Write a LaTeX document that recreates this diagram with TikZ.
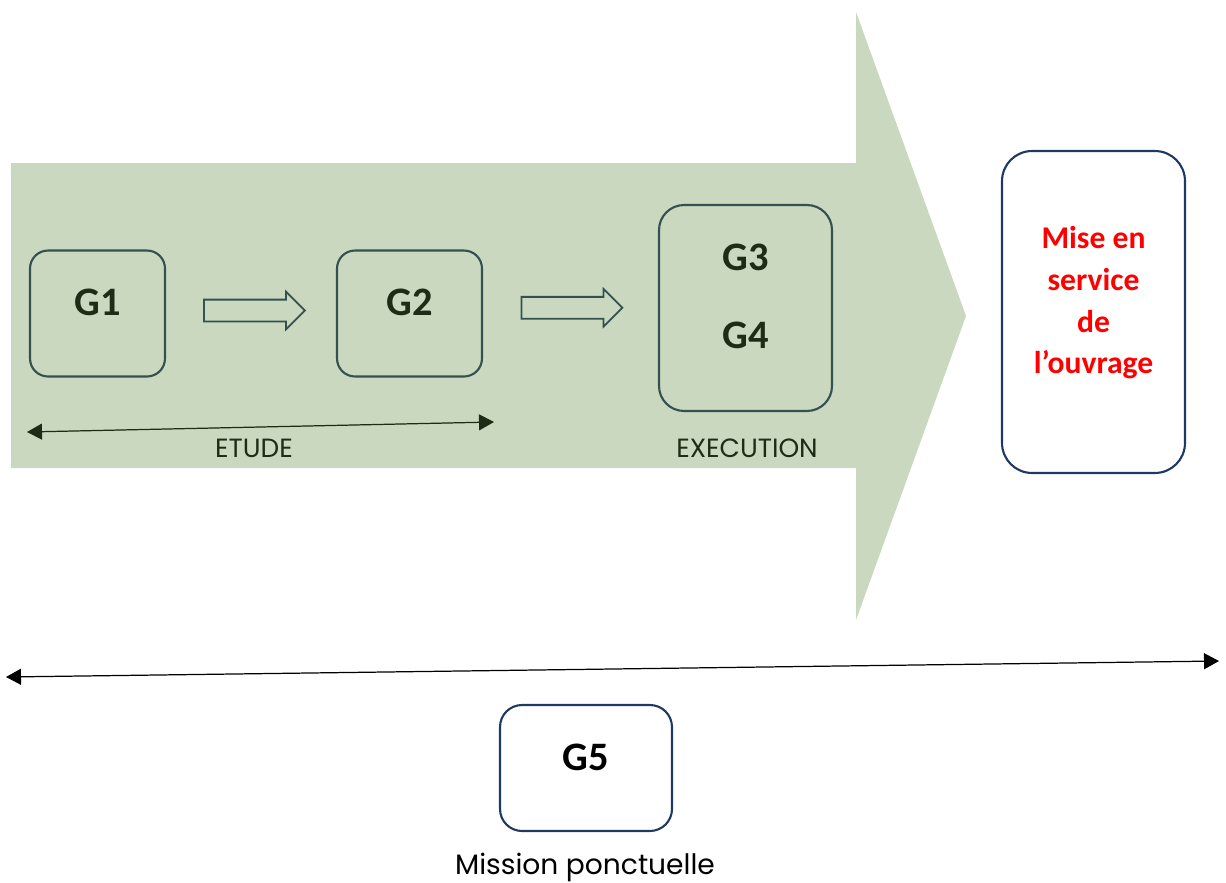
\documentclass[tikz,border=0pt]{standalone}
\usepackage{fontspec}
\setmainfont{Carlito}
\newfontfamily\gothic{Poppins}
\usetikzlibrary{arrows.meta,positioning,calc,shapes.arrows}
\definecolor{sage}{HTML}{C9D8BF}
\definecolor{tealline}{HTML}{35504F}
\definecolor{navyline}{HTML}{1F3864}
\definecolor{gtext}{HTML}{1E2B16}
\begin{document}
\begin{tikzpicture}[x=0.02cm,y=-0.02cm,
  gbox/.style={draw=tealline,line width=1.2pt,rounded corners=0.36cm,inner sep=0pt,
    font=\fontsize{23}{27}\selectfont\bfseries,text=gtext,
    minimum height=2.5cm,text height=1.3cm,text depth=1.22cm},
  bluebox/.style={gbox,draw=navyline,fill=white,text=black},
  hollow/.style={single arrow,draw=tealline,line width=1pt,minimum height=2.02cm,
    inner sep=0.2cm,single arrow head extend=0.16cm,single arrow head indent=0pt},
  lbl/.style={font=\gothic\fontsize{15}{18}\selectfont,text=gtext,inner sep=0pt},
  span/.style={{Triangle[length=0.3cm,width=0.32cm]}-{Triangle[length=0.3cm,width=0.32cm]},line width=0.7pt}]
\useasboundingbox (0,0) rectangle (1226,882);
\fill[sage] (11,163) -- (856,163) -- (856,12) -- (966,316) -- (856,620) -- (856,468) -- (11,468) -- cycle;
\node[gbox,minimum width=2.7cm] (g1) at (97.5,313.5) {G1};
\node[gbox,minimum width=2.9cm] (g2) at (409.5,313.5) {G2};
\node[gbox,minimum width=3.46cm,minimum height=4.12cm,rounded corners=0.5cm,align=center,
  font=\fontsize{23}{44.4}\selectfont\bfseries,text height=2.88cm,text depth=1.24cm] (g34) at (745.5,308) {G3\\G4};
\node[bluebox,minimum width=3.66cm,minimum height=6.44cm,rounded corners=0.6cm,align=center,
  text=red,text height=4.46cm,text depth=1.98cm,font=\fontsize{18}{23.9}\selectfont\bfseries] (mes) at (1093.5,312) {Mise en\\service\\de\\l’ouvrage};
\node[bluebox,minimum width=3.44cm,rounded corners=0.44cm] (g5) at (586,768) {G5};
\node[hollow] (a12) at ($(g1.east)!0.5!(g2.west)+(-2,-3)$) {};
\node[hollow] (a23) at ($(g2.east)!0.5!(g34.west)+(-4,-3)$) {};
\coordinate (etudeL) at (27,432);
\coordinate (etudeR) at (494,422);
\draw[span,draw=gtext,fill=gtext] (etudeL) -- (etudeR);
\node[lbl] (etude) at (254,448) {ETUDE};
\node[lbl] (exec) at (747,448) {EXECUTION};
\coordinate (allL) at (6,677);
\coordinate (allR) at (1219,661);
\draw[span,black] (allL) -- (allR);
\node[lbl,text=black,font=\gothic\fontsize{16}{19}\selectfont] (mission) at (585,867) {Mission ponctuelle};
\end{tikzpicture}
\end{document}
